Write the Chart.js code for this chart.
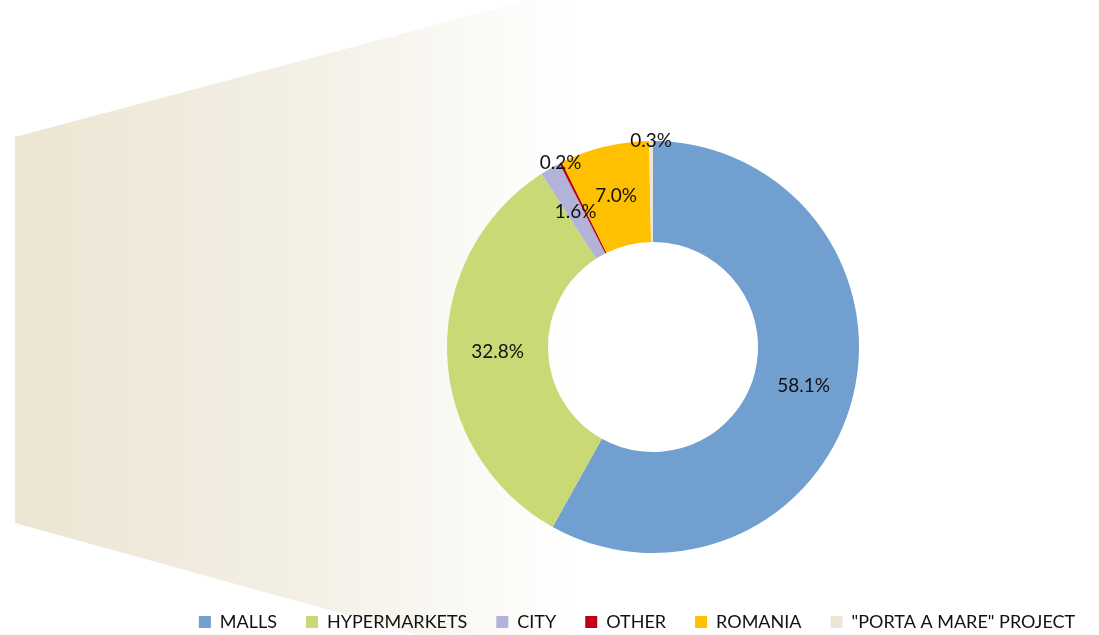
<!DOCTYPE html>
<html>
<head>
<meta charset="utf-8">
<script src="https://cdn.jsdelivr.net/npm/chart.js@4"></script>
<style>
html,body{margin:0;padding:0;background:#fff;}
#wrap{width:1099px;height:635px;position:relative;}
</style>
</head>
<body>
<div id="wrap"><canvas id="c" width="1099" height="635"></canvas></div>
<script>
const categories = ['MALLS', 'HYPERMARKETS', 'CITY', 'OTHER', 'ROMANIA', '"PORTA A MARE" PROJECT'];
const shares = [58.1, 32.8, 1.6, 0.2, 7.0, 0.3];
const sliceColors = ['#709fd0', '#c9d975', '#b3b3d9', '#c00018', '#ffc000', '#ede6d5'];

const FONT = "Lato, 'Liberation Sans', sans-serif";

const funnelBg = {
  id: 'funnelBg',
  beforeDraw(chart) {
    const ctx = chart.ctx;
    ctx.save();
    const g = ctx.createLinearGradient(15, 0, 570, 0);
    g.addColorStop(0, 'rgb(236,229,211)');
    g.addColorStop(0.5, 'rgb(243,239,228)');
    g.addColorStop(1, 'rgba(255,255,255,1)');
    ctx.fillStyle = g;
    ctx.beginPath();
    ctx.moveTo(15, 137);
    ctx.lineTo(600, -19);
    ctx.lineTo(600, 685);
    ctx.lineTo(15, 523);
    ctx.closePath();
    ctx.fill();
    ctx.restore();
  }
};

const sliceLabels = {
  id: 'sliceLabels',
  afterDatasetsDraw(chart) {
    const ctx = chart.ctx;
    const meta = chart.getDatasetMeta(0);
    const data = chart.data.datasets[0].data;
    ctx.save();
    ctx.fillStyle = '#111';
    ctx.font = "19px " + FONT;
    ctx.textAlign = 'center';
    ctx.textBaseline = 'middle';
    meta.data.forEach((arc, i) => {
      const p = arc.getProps(['x','y','startAngle','endAngle','innerRadius','outerRadius'], true);
      const mid = (p.startAngle + p.endAngle) / 2;
      const r = data[i] < 1 ? p.outerRadius : (p.innerRadius + p.outerRadius) / 2;
      const x = p.x + Math.cos(mid) * r;
      const y = p.y + Math.sin(mid) * r;
      ctx.fillText(data[i].toFixed(1) + '%', x, y);
    });
    ctx.restore();
  }
};

new Chart(document.getElementById('c'), {
  type: 'doughnut',
  data: {
    labels: categories,
    datasets: [{
      data: shares,
      backgroundColor: sliceColors,
      borderColor: '#ffffff',
      borderWidth: 0
    }]
  },
  options: {
    responsive: false,
    animation: false,
    radius: 206,
    cutout: '51%',
    layout: { padding: { left: 135, right: -40, top: 110, bottom: -6 } },
    plugins: {
      title: {
        display: true,
        text: ' ',
        position: 'left',
        fullSize: false,
        font: { size: 10, lineHeight: 1.2 },
        padding: 30
      },
      legend: {
        position: 'bottom',
        labels: {
          boxWidth: 12,
          boxHeight: 12,
          padding: 29,
          color: '#111',
          font: { family: FONT, size: 18 }
        }
      },
      tooltip: { enabled: false }
    }
  },
  plugins: [funnelBg, sliceLabels]
});
</script>
</body>
</html>
